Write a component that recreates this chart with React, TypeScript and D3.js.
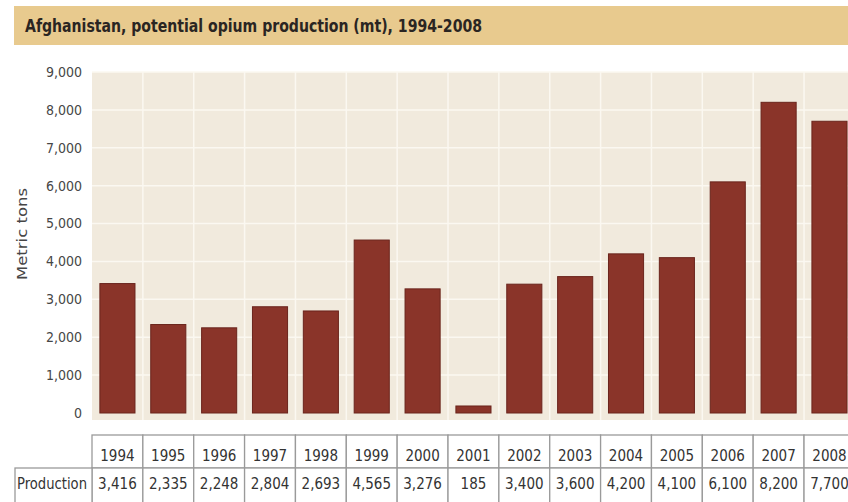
import { useEffect, useRef } from "react";
import * as d3 from "d3";

const years = ["1994", "1995", "1996", "1997", "1998", "1999", "2000", "2001", "2002", "2003", "2004", "2005", "2006", "2007", "2008"];
const production = [3416, 2335, 2248, 2804, 2693, 4565, 3276, 185, 3400, 3600, 4200, 4100, 6100, 8200, 7700];
const yTicks = [0, 1000, 2000, 3000, 4000, 5000, 6000, 7000, 8000, 9000];

const title = "Afghanistan, potential opium production (mt), 1994-2008";
const rowLabel = "Production";
const yLabel = "Metric tons";

const font = "'DejaVu Sans Condensed', 'Liberation Sans Narrow', Roboto, sans-serif";

const App = () => {
  const ref = useRef<SVGSVGElement>(null);
  const width = 848;
  const height = 502;

  useEffect(() => {
    const svg = d3.select(ref.current);
    svg.selectAll("*").remove();

    const left = 92;
    const colW = 50.86;
    const top = 72;
    const bottom = 413;

    const x = d3
      .scaleBand<string>()
      .domain(years)
      .range([left, left + colW * years.length])
      .padding(0);

    const y = d3.scaleLinear().domain([0, 9000]).range([bottom, top]);

    // title band
    svg.append("rect").attr("x", 14).attr("y", 6).attr("width", width - 14).attr("height", 39).attr("fill", "#e8ca8e");
    svg
      .append("text")
      .attr("x", 25)
      .attr("y", 32)
      .attr("font-family", font)
      .attr("font-size", 18)
      .attr("font-weight", "bold")
      .attr("fill", "#2a2522")
      .attr("textLength", 457)
      .attr("lengthAdjust", "spacingAndGlyphs")
      .text(title);

    // plot background
    svg
      .append("rect")
      .attr("x", left)
      .attr("y", top)
      .attr("width", width - left)
      .attr("height", bottom - top + 7)
      .attr("fill", "#f1eadd");

    // grid
    const g = svg.append("g");
    g.selectAll(".hgrid")
      .data(yTicks.filter((d) => d > 0))
      .join("line")
      .attr("x1", left)
      .attr("x2", width)
      .attr("y1", (d) => y(d))
      .attr("y2", (d) => y(d))
      .attr("stroke", "#fbf8f1")
      .attr("stroke-width", 1.5);

    g.selectAll(".vgrid")
      .data(years.slice(1))
      .join("line")
      .attr("x1", (d) => x(d)!)
      .attr("x2", (d) => x(d)!)
      .attr("y1", top)
      .attr("y2", bottom + 7)
      .attr("stroke", "#fbf8f1")
      .attr("stroke-width", 1.5);

    // y axis labels
    svg
      .append("g")
      .selectAll("text")
      .data(yTicks)
      .join("text")
      .attr("x", 82)
      .attr("y", (d) => y(d))
      .attr("dy", "0.35em")
      .attr("text-anchor", "end")
      .attr("font-family", font)
      .attr("font-size", 14)
      .attr("fill", "#464646")
      .text((d) => d3.format(",")(d));

    svg
      .append("text")
      .attr("transform", `translate(27,234) rotate(-90)`)
      .attr("text-anchor", "middle")
      .attr("font-family", font)
      .attr("font-size", 14)
      .attr("fill", "#464646")
      .attr("textLength", 92)
      .attr("lengthAdjust", "spacingAndGlyphs")
      .text(yLabel);

    // bars
    const barW = x.bandwidth() * 0.69;
    svg
      .append("g")
      .selectAll("rect")
      .data(production)
      .join("rect")
      .attr("x", (d, i) => x(years[i])! + (x.bandwidth() - barW) / 2)
      .attr("y", (d) => y(d))
      .attr("width", barW)
      .attr("height", (d) => bottom - y(d))
      .attr("fill", "#8a3429")
      .attr("stroke", "#6a241c")
      .attr("stroke-width", 1);

    // table
    const rowTop = 435;
    const rowH = 33;
    const t = svg.append("g").attr("font-family", font).attr("font-size", 15).attr("fill", "#333");

    t.selectAll(".hdr")
      .data(years)
      .join("rect")
      .attr("x", (d) => x(d)!)
      .attr("y", rowTop)
      .attr("width", x.bandwidth())
      .attr("height", rowH)
      .attr("fill", "#fff")
      .attr("stroke", "#9a9a9a")
      .attr("stroke-width", 1.3);

    t.selectAll(".val")
      .data(years)
      .join("rect")
      .attr("x", (d) => x(d)!)
      .attr("y", rowTop + rowH)
      .attr("width", x.bandwidth())
      .attr("height", rowH + 6)
      .attr("fill", "#fff")
      .attr("stroke", "#9a9a9a")
      .attr("stroke-width", 1.3);

    t.append("rect")
      .attr("x", 15)
      .attr("y", rowTop + rowH)
      .attr("width", left - 15)
      .attr("height", rowH + 6)
      .attr("fill", "#fff")
      .attr("stroke", "#9a9a9a")
      .attr("stroke-width", 1.3);

    t.selectAll(".yr")
      .data(years)
      .join("text")
      .attr("x", (d) => x(d)! + x.bandwidth() / 2)
      .attr("y", rowTop + 26)
      .attr("text-anchor", "middle")
      .attr("fill", "#333")
      .text((d) => d);

    t.selectAll(".pv")
      .data(production)
      .join("text")
      .attr("x", (d, i) => x(years[i])! + x.bandwidth() / 2)
      .attr("y", rowTop + rowH + 21)
      .attr("text-anchor", "middle")
      .attr("fill", "#333")
      .text((d) => d3.format(",")(d));

    t.append("text")
      .attr("x", 17)
      .attr("y", rowTop + rowH + 21)
      .attr("fill", "#333")
      .attr("textLength", 70)
      .attr("lengthAdjust", "spacingAndGlyphs")
      .text(rowLabel);
  }, []);

  return (
    <svg
      ref={ref}
      width={width}
      height={height}
      style={{ position: "absolute", left: 0, top: 0, background: "#fff" }}
    ></svg>
  );
};

export default App;
